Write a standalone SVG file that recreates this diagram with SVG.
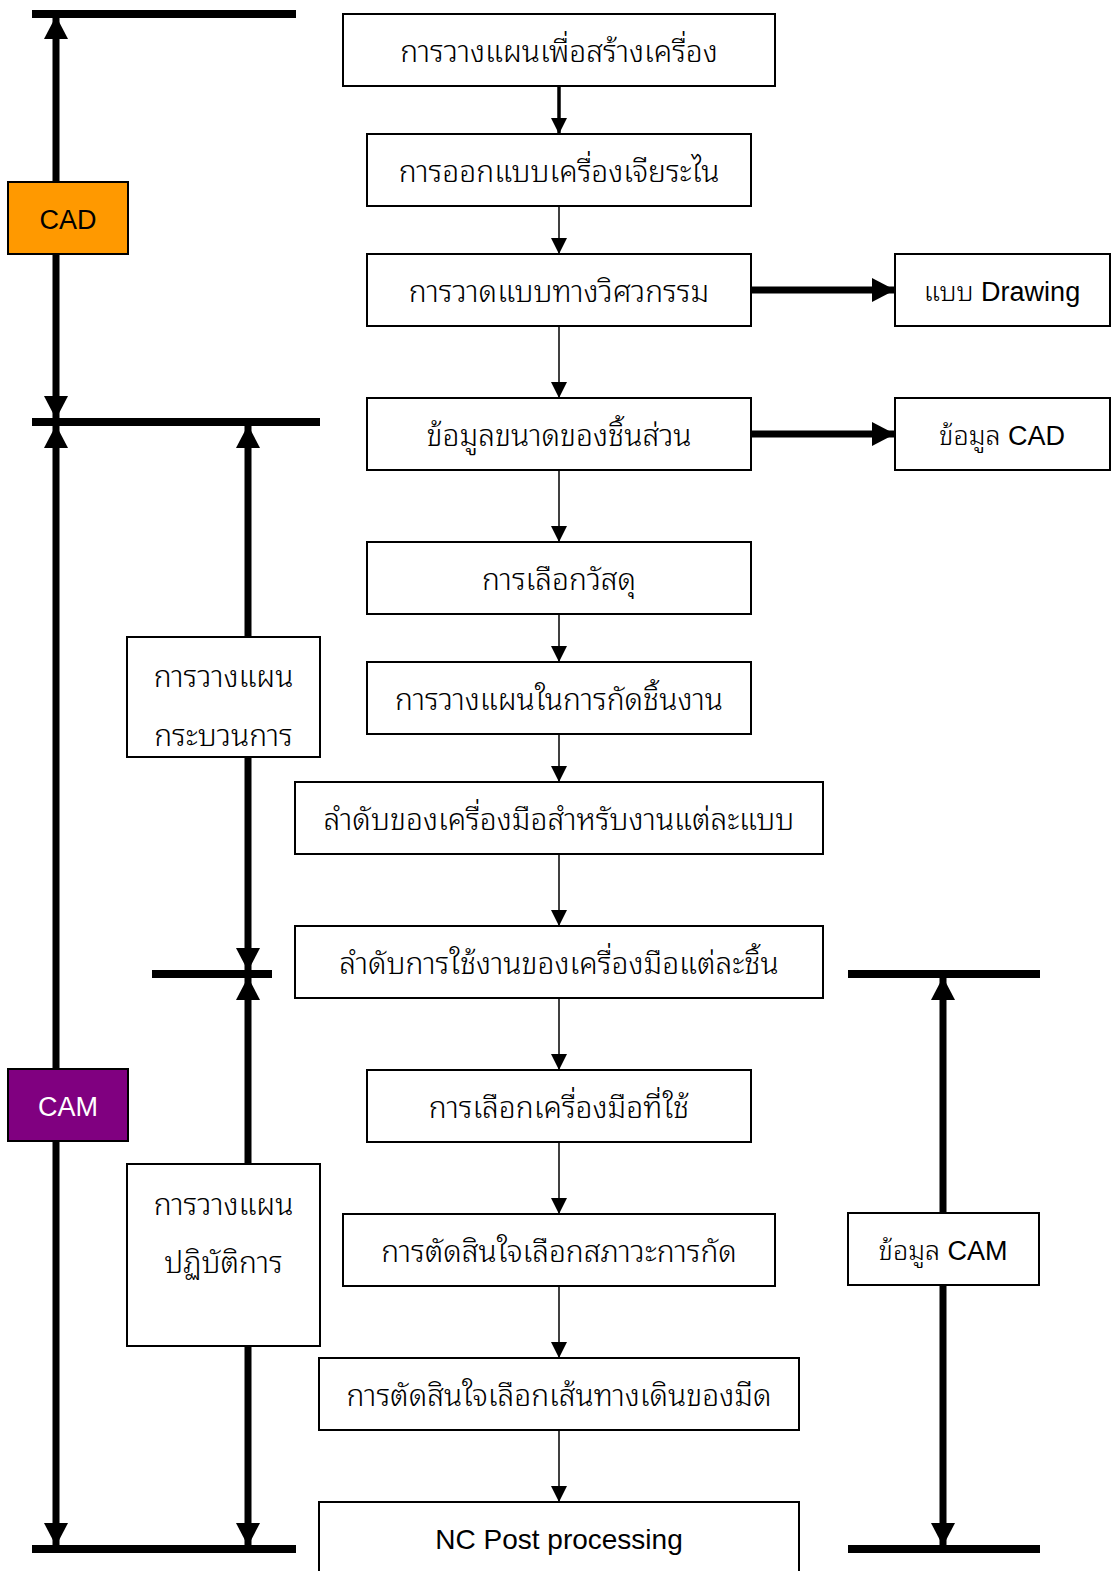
<svg xmlns="http://www.w3.org/2000/svg" width="1112" height="1571" viewBox="0 0 1112 1571">
<style>
.box{fill:#fff;stroke:#000;stroke-width:2}
.t{font-family:"Liberation Sans","Noto Sans Thai Looped","Loma","Garuda","Norasi","Noto Sans Thai","Noto Sans",sans-serif;font-size:28px;font-weight:300;fill:#000;text-anchor:middle}
.th{font-size:30px}
.bar{stroke:#000;stroke-width:8;fill:none}
.thick{stroke:#000;stroke-width:7;fill:none}
.thin{stroke:#000;stroke-width:1.5;fill:none}
</style>
<defs>
<marker id="ah" markerUnits="userSpaceOnUse" markerWidth="16" markerHeight="16" refX="16" refY="8" orient="auto-start-reverse" viewBox="0 0 16 16"><path d="M0,0L16,8L0,16z" fill="#000"/></marker>
<marker id="big" markerUnits="userSpaceOnUse" markerWidth="23" markerHeight="24" refX="23" refY="12" orient="auto-start-reverse" viewBox="0 0 23 24"><path d="M0,0L23,12L0,24z" fill="#000"/></marker>
</defs>
<g id="connectors">
<line class="bar" x1="32" y1="14" x2="296" y2="14"/>
<line class="bar" x1="32" y1="422" x2="320" y2="422"/>
<line class="bar" x1="152" y1="974" x2="272" y2="974"/>
<line class="bar" x1="32" y1="1549" x2="296" y2="1549"/>
<line class="bar" x1="848" y1="974" x2="1040" y2="974"/>
<line class="bar" x1="848" y1="1549" x2="1040" y2="1549"/>
<line class="thick" x1="56" y1="16" x2="56" y2="419" marker-start="url(#big)" marker-end="url(#big)"/>
<line class="thick" x1="56" y1="425" x2="56" y2="1546" marker-start="url(#big)" marker-end="url(#big)"/>
<line class="thick" x1="248" y1="425" x2="248" y2="971" marker-start="url(#big)" marker-end="url(#big)"/>
<line class="thick" x1="248" y1="977" x2="248" y2="1546" marker-start="url(#big)" marker-end="url(#big)"/>
<line class="thick" x1="943" y1="977" x2="943" y2="1546" marker-start="url(#big)" marker-end="url(#big)"/>
<line class="thick" x1="751" y1="290" x2="895" y2="290" marker-end="url(#big)"/>
<line class="thick" x1="751" y1="434" x2="895" y2="434" marker-end="url(#big)"/>
<line stroke="#000" stroke-width="3.5" x1="559" y1="86" x2="559" y2="134" marker-end="url(#ah)"/>
<line class="thin" x1="559" y1="206" x2="559" y2="254" marker-end="url(#ah)"/>
<line class="thin" x1="559" y1="326" x2="559" y2="398" marker-end="url(#ah)"/>
<line class="thin" x1="559" y1="470" x2="559" y2="542" marker-end="url(#ah)"/>
<line class="thin" x1="559" y1="614" x2="559" y2="662" marker-end="url(#ah)"/>
<line class="thin" x1="559" y1="734" x2="559" y2="782" marker-end="url(#ah)"/>
<line class="thin" x1="559" y1="854" x2="559" y2="926" marker-end="url(#ah)"/>
<line class="thin" x1="559" y1="998" x2="559" y2="1070" marker-end="url(#ah)"/>
<line class="thin" x1="559" y1="1142" x2="559" y2="1214" marker-end="url(#ah)"/>
<line class="thin" x1="559" y1="1286" x2="559" y2="1358" marker-end="url(#ah)"/>
<line class="thin" x1="559" y1="1430" x2="559" y2="1502" marker-end="url(#ah)"/>
</g>
<g id="cad"><rect x="8" y="182" width="120" height="72" fill="#FF9900" stroke="#000" stroke-width="2"/><text class="t" x="68" y="229" style="font-size:27px">CAD</text></g>
<g id="cam"><rect x="8" y="1069" width="120" height="72" fill="#800080" stroke="#000" stroke-width="2"/><text class="t" x="68" y="1116" style="font-size:27px;fill:#fff">CAM</text></g>
<g id="process"><rect class="box" x="127" y="637" width="193" height="120"/><text class="t th" x="223.5" y="687">การวางแผน</text><text class="t th" x="223.5" y="746">กระบวนการ</text></g>
<g id="operation"><rect class="box" x="127" y="1164" width="193" height="182"/><text class="t th" x="223.5" y="1215">การวางแผน</text><text class="t th" x="223.5" y="1273">ปฏิบัติการ</text></g>
<g id="n1"><rect class="box" x="343" y="14" width="432" height="72"/><text class="t th" x="559" y="62">การวางแผนเพื่อสร้างเครื่อง</text></g>
<g id="n2"><rect class="box" x="367" y="134" width="384" height="72"/><text class="t th" x="559" y="182">การออกแบบเครื่องเจียระไน</text></g>
<g id="n3"><rect class="box" x="367" y="254" width="384" height="72"/><text class="t th" x="559" y="302">การวาดแบบทางวิศวกรรม</text></g>
<g id="n4"><rect class="box" x="367" y="398" width="384" height="72"/><text class="t th" x="559" y="446">ข้อมูลขนาดของชิ้นส่วน</text></g>
<g id="n5"><rect class="box" x="367" y="542" width="384" height="72"/><text class="t th" x="559" y="590">การเลือกวัสดุ</text></g>
<g id="n6"><rect class="box" x="367" y="662" width="384" height="72"/><text class="t th" x="559" y="710">การวางแผนในการกัดชิ้นงาน</text></g>
<g id="n7"><rect class="box" x="295" y="782" width="528" height="72"/><text class="t th" x="559" y="830">ลำดับของเครื่องมือสำหรับงานแต่ละแบบ</text></g>
<g id="n8"><rect class="box" x="295" y="926" width="528" height="72"/><text class="t th" x="559" y="974">ลำดับการใช้งานของเครื่องมือแต่ละชิ้น</text></g>
<g id="n9"><rect class="box" x="367" y="1070" width="384" height="72"/><text class="t th" x="559" y="1118">การเลือกเครื่องมือที่ใช้</text></g>
<g id="n10"><rect class="box" x="343" y="1214" width="432" height="72"/><text class="t th" x="559" y="1262">การตัดสินใจเลือกสภาวะการกัด</text></g>
<g id="n11"><rect class="box" x="319" y="1358" width="480" height="72"/><text class="t th" x="559" y="1406">การตัดสินใจเลือกเส้นทางเดินของมีด</text></g>
<g id="n12"><rect class="box" x="319" y="1502" width="480" height="80"/><text class="t" x="559" y="1549">NC Post processing</text></g>
<g id="drawing"><rect class="box" x="895" y="254" width="215" height="72"/><text class="t" x="1002" y="301" style="font-size:27px">แบบ Drawing</text></g>
<g id="caddata"><rect class="box" x="895" y="398" width="215" height="72"/><text class="t" x="1002" y="445" style="font-size:27px">ข้อมูล CAD</text></g>
<g id="camdata"><rect class="box" x="848" y="1213" width="191" height="72"/><text class="t" x="943" y="1260" style="font-size:27px">ข้อมูล CAM</text></g>
</svg>
